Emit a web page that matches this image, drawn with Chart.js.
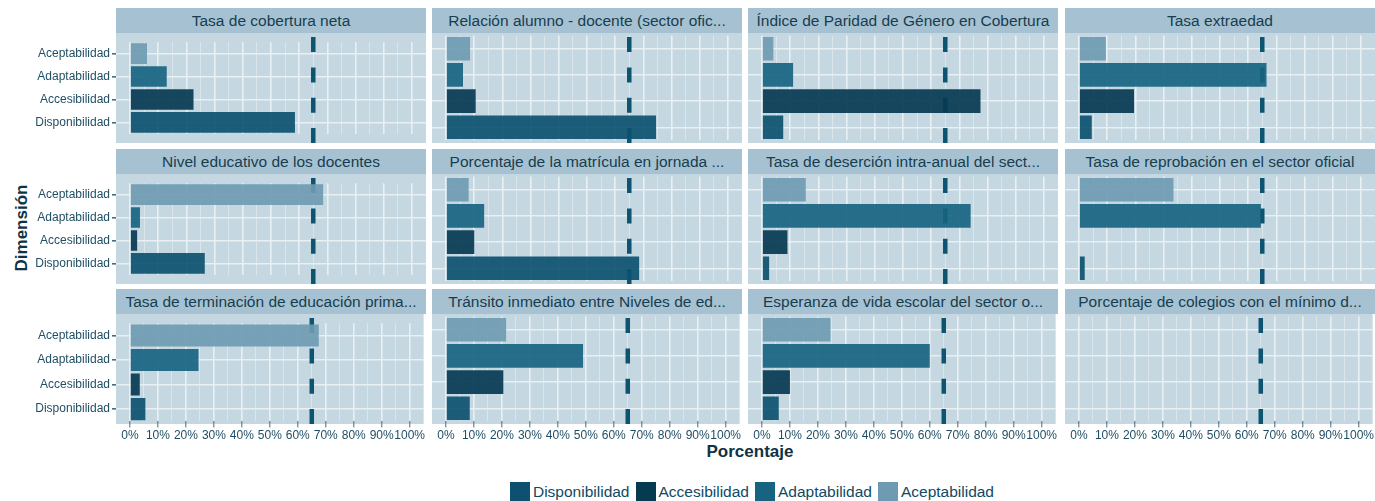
<!DOCTYPE html>
<html lang="es">
<head>
<meta charset="utf-8">
<title>Dimensiones por indicador</title>
<script src="https://cdn.jsdelivr.net/npm/chart.js@4.4.1/dist/chart.umd.min.js"></script>
<style>
  html, body { margin: 0; padding: 0; background: #fff; }
  body { width: 1375px; height: 501px; position: relative; overflow: hidden;
         font-family: "Liberation Sans", Arial, sans-serif; }
  .strip { position: absolute; height: 25px; line-height: 25px; background: #a6c2d2;
           color: #173d4f; font-size: 15.5px; text-align: center; white-space: nowrap; }
  .panel { position: absolute; }
  .axis-title { position: absolute; font-weight: bold; font-size: 17px; color: #0d3345; white-space: nowrap; }
  #legend { position: absolute; left: 0; width: 1498px; top: 482px; display: flex;
            justify-content: center; align-items: center; font-size: 15.5px; color: #0f4a63; }
  #legend .sw { width: 20px; height: 20px; margin: 0 3px 0 6px; }
</style>
</head>
<body>
<div class="axis-title" style="left:750px; top:452px; transform: translate(-50%, -50%);">Porcentaje</div>
<div class="axis-title" style="left:22px; top:228px; transform: translate(-50%, -50%) rotate(-90deg);">Dimensión</div>
<div id="legend"></div>

<script>
// --- Data ---
const indicators = [
  'Tasa de cobertura neta',
  'Relación alumno - docente (sector ofic...',
  'Índice de Paridad de Género en Cobertura',
  'Tasa extraedad',
  'Nivel educativo de los docentes',
  'Porcentaje de la matrícula en jornada ...',
  'Tasa de deserción intra-anual del sect...',
  'Tasa de reprobación en el sector oficial',
  'Tasa de terminación de educación prima...',
  'Tránsito inmediato entre Niveles de ed...',
  'Esperanza de vida escolar del sector o...',
  'Porcentaje de colegios con el mínimo d...'
];

// y categories, top to bottom
const dimensions = ['Aceptabilidad', 'Adaptabilidad', 'Accesibilidad', 'Disponibilidad'];
// legend order
const legendOrder = ['Disponibilidad', 'Accesibilidad', 'Adaptabilidad', 'Aceptabilidad'];

// porcentaje por indicador (same order as indicators)
const aceptabilidad  = [6,    8.5,  4,    9.5,  68.5, 8,    15.5, 33.5, 67.5, 21.5, 24.5, null];
const adaptabilidad  = [13,   6,    11,   66.5, 3.5,  13.5, 74,   64.5, 24.5, 49,   60,   null];
const accesibilidad  = [22.5, 10.5, 77.5, 19.5, 2.5,  10,   9,    null, 3.5,  20.5, 10,   null];
const disponibilidad = [58.5, 74.5, 7.5,  4.5,  26.5, 68.5, 2.5,  2,    5.5,  8.5,  6,    null];

const xTicks = [0, 10, 20, 30, 40, 50, 60, 70, 80, 90, 100];
const threshold = 65;

const seriesByDim = {
  Aceptabilidad: aceptabilidad,
  Adaptabilidad: adaptabilidad,
  Accesibilidad: accesibilidad,
  Disponibilidad: disponibilidad
};

const colors = {
  Disponibilidad: '#0c5270',
  Accesibilidad: '#053a51',
  Adaptabilidad: '#176480',
  Aceptabilidad: '#6e9bb1'
};

// --- Layout of the facet grid ---
const colLeft = [116, 432, 748, 1065];
const panelW = 310;
const stripTop = [8, 149, 289];
const stripH = 25;
const panelH = 110;
const pad = 2.6;   // ggplot-like discrete expansion

const tickColor = '#1f4e64';
const fontFamily = '"Liberation Sans", Arial, sans-serif';

// Panel background + dashed reference line
const facetPlugin = {
  id: 'facet',
  beforeDraw(chart) {
    const { ctx, chartArea } = chart;
    ctx.save();
    ctx.fillStyle = '#c5d7e1';
    ctx.fillRect(chartArea.left, 0, chartArea.right - chartArea.left, panelH);
    ctx.restore();
  },
  beforeDatasetsDraw(chart) {
    const { ctx, scales } = chart;
    const x = scales.x.getPixelForValue(threshold);
    ctx.save();
    ctx.strokeStyle = '#0c5470';
    ctx.lineWidth = 4.5;
    ctx.setLineDash([15, 15.3]);
    ctx.beginPath();
    ctx.moveTo(x, panelH);
    ctx.lineTo(x, 0);
    ctx.stroke();
    ctx.restore();
  }
};

indicators.forEach((title, i) => {
  const row = Math.floor(i / 4), col = i % 4;
  const firstCol = col === 0, lastRow = row === 2;

  const strip = document.createElement('div');
  strip.className = 'strip';
  strip.style.left = colLeft[col] + 'px';
  strip.style.width = panelW + 'px';
  strip.style.top = stripTop[row] + 'px';
  strip.textContent = title;
  document.body.appendChild(strip);

  const box = document.createElement('div');
  box.className = 'panel';
  const left = firstCol ? 0 : colLeft[col];
  const yAxisW = firstCol ? colLeft[0] : 0;
  const xAxisH = lastRow ? 24 : 0;
  box.style.left = left + 'px';
  box.style.width = (yAxisW + panelW) + 'px';
  box.style.top = (stripTop[row] + stripH) + 'px';
  box.style.height = (panelH + xAxisH) + 'px';
  const canvas = document.createElement('canvas');
  box.appendChild(canvas);
  document.body.appendChild(box);

  new Chart(canvas, {
    type: 'bar',
    data: {
      labels: dimensions,
      datasets: [{
        data: dimensions.map(d => seriesByDim[d][i]),
        backgroundColor: dimensions.map(d => colors[d] + 'eb'),
        barPercentage: 0.9,
        categoryPercentage: 1.0
      }]
    },
    options: {
      indexAxis: 'y',
      responsive: true,
      maintainAspectRatio: false,
      animation: false,
      layout: { padding: { top: pad, left: 0, right: 0, bottom: 0 } },
      plugins: { legend: { display: false }, tooltip: { enabled: false } },
      scales: {
        x: {
          type: 'linear',
          min: -5,
          max: 105,
          border: { display: false },
          afterFit: s => { s.height = pad + xAxisH; },
          afterBuildTicks: s => {
            // major breaks plus minor breaks halfway between them
            const t = [];
            xTicks.forEach((v, k) => {
              t.push({ value: v });
              if (k < xTicks.length - 1) t.push({ value: (v + xTicks[k + 1]) / 2 });
            });
            s.ticks = t;
          },
          grid: {
            drawTicks: lastRow,
            tickLength: 6,
            color: c => xTicks.includes(c.tick.value) ? '#e9f0f4' : '#dbe6ec',
            lineWidth: c => xTicks.includes(c.tick.value) ? 1.6 : 1,
            tickColor: c => xTicks.includes(c.tick.value) ? '#4a6b7b' : 'transparent',
            tickWidth: 1
          },
          ticks: {
            display: lastRow,
            autoSkip: false,
            maxRotation: 0,
            padding: 1,
            color: tickColor,
            font: { family: fontFamily, size: 12 },
            callback: v => xTicks.includes(v) ? v + '%' : ''
          }
        },
        y: {
          type: 'category',
          border: { display: false },
          afterFit: s => { s.width = yAxisW; },
          grid: {
            offset: false,
            color: '#e9f0f4',
            lineWidth: 1.6,
            drawTicks: firstCol,
            tickLength: 4,
            tickColor: '#4a6b7b'
          },
          ticks: {
            display: firstCol,
            padding: 2,
            color: tickColor,
            font: { family: fontFamily, size: 12 }
          }
        }
      }
    },
    plugins: [facetPlugin]
  });
});

// --- Legend ---
const legend = document.getElementById('legend');
legendOrder.forEach(d => {
  const sw = document.createElement('span');
  sw.className = 'sw';
  sw.style.background = colors[d];
  const tx = document.createElement('span');
  tx.textContent = d;
  legend.appendChild(sw);
  legend.appendChild(tx);
});
</script>
</body>
</html>
